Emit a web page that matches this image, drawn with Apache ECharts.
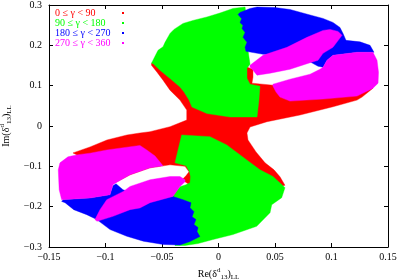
<!DOCTYPE html>
<html><head><meta charset="utf-8">
<script src="https://cdn.jsdelivr.net/npm/echarts@6/dist/echarts.min.js"></script>
<style>html,body{margin:0;padding:0;background:#fff}#c{width:397px;height:280px}</style>
</head><body><div id="c"></div>
<script>
const xTicks = [-0.15, -0.1, -0.05, 0, 0.05, 0.1, 0.15];
const yTicks = [-0.3, -0.2, -0.1, 0, 0.1, 0.2, 0.3];
const gammaRanges = ['0 ≤ γ < 90', '90 ≤ γ < 180', '180 ≤ γ < 270', '270 ≤ γ < 360'];
const colors = ['#ff0000', '#00ff00', '#0000ff', '#ff00ff'];

// region outlines, in (Re, Im) data units
const redRegion = [
[-0.0593,0.1556],[-0.0164,0.1630],[0.0235,0.1481],[0.0279,0.1432],[0.0305,0.1407],[0.0305,0.1210],[0.0296,0.1062],[0.0482,0.1012],[0.0721,0.0988],[0.1358,0.0988],[0.1367,0.0938],[0.1270,0.0716],[0.1226,0.0642],[0.1013,0.0477],[0.0721,0.0272],[0.0429,0.0106],[0.0279,-0.0025],[0.0252,-0.0173],[0.0261,-0.0346],[0.0332,-0.0642],[0.0412,-0.0914],[0.0491,-0.1086],[0.0544,-0.1259],[0.0588,-0.1469],[0.0279,-0.1704],[-0.0199,-0.1481],[-0.0270,-0.1432],[-0.0323,-0.1333],[-0.0288,-0.1235],[-0.0261,-0.1136],[-0.0296,-0.1000],[-0.0429,-0.0963],[-0.0606,-0.1037],[-0.0783,-0.1210],[-0.0916,-0.1407],[-0.1049,-0.1136],[-0.1252,-0.0716],[-0.1288,-0.0667],[-0.1137,-0.0519],[-0.0987,-0.0346],[-0.0810,-0.0222],[-0.0695,-0.0173],[-0.0606,-0.0141],[-0.0429,-0.0017],[-0.0281,0.0148],[-0.0281,0.0395],[-0.0341,0.0642],[-0.0429,0.0889],[-0.0491,0.1136],[-0.0544,0.1333],[-0.0593,0.1506]
];
const greenUpper = [
[-0.0593,0.1556],[-0.0562,0.1728],[-0.0535,0.1877],[-0.0491,0.1963],[-0.0473,0.2074],[-0.0429,0.2296],[-0.0394,0.2395],[-0.0314,0.2543],[-0.0226,0.2617],[-0.0102,0.2704],[0.0013,0.2802],[0.0128,0.2914],[0.0235,0.2951],[0.0261,0.2370],[0.0261,0.1877],[0.0279,0.1531],[0.0252,0.1432],[0.0252,0.1185],[0.0279,0.1037],[0.0367,0.0988],[0.0358,0.0642],[0.0341,0.0222],[0.0102,0.0222],[-0.0102,0.0309],[-0.0235,0.0469],[-0.0261,0.0642],[-0.0305,0.0840],[-0.0341,0.0970],[-0.0429,0.1178],[-0.0518,0.1383],[-0.0580,0.1548]
];
const greenLower = [
[-0.0326,-0.0222],[-0.0075,-0.0264],[0.0073,-0.0469],[0.0250,-0.0840],[0.0367,-0.1086],[0.0482,-0.1252],[0.0571,-0.1481],[0.0588,-0.1531],[0.0559,-0.1778],[0.0471,-0.1951],[0.0456,-0.2148],[0.0338,-0.2486],[0.0128,-0.2691],[-0.0049,-0.2815],[-0.0181,-0.2914],[-0.0296,-0.2963],[-0.0385,-0.2963],[-0.0412,-0.1753],[-0.0341,-0.1506],[-0.0288,-0.1457],[-0.0252,-0.1407],[-0.0248,-0.1259],[-0.0257,-0.1136],[-0.0288,-0.0988],[-0.0385,-0.0914],[-0.0358,-0.0593]
];
const blueUpper = [
[0.0173,0.2765],[0.0190,0.2815],[0.0279,0.2914],[0.0341,0.2951],[0.0500,0.2938],[0.0633,0.2889],[0.0810,0.2753],[0.0925,0.2667],[0.1013,0.2568],[0.1075,0.2444],[0.1102,0.2296],[0.1128,0.2123],[0.1252,0.2086],[0.1341,0.2000],[0.1376,0.1827],[0.1226,0.1827],[0.1013,0.1753],[0.0960,0.1630],[0.0925,0.1457],[0.0881,0.1481],[0.0721,0.1728],[0.0394,0.1778],[0.0243,0.1852],[0.0235,0.1951],[0.0252,0.2074],[0.0217,0.2198],[0.0235,0.2321],[0.0208,0.2420],[0.0217,0.2494],[0.0190,0.2568],[0.0205,0.2657]
];
const blueLower = [
[-0.1388,-0.1869],[-0.1358,-0.1901],[-0.1281,-0.2074],[-0.1166,-0.2198],[-0.1077,-0.2321],[-0.0960,-0.2568],[-0.0812,-0.2733],[-0.0665,-0.2857],[-0.0488,-0.2938],[-0.0341,-0.2951],[-0.0252,-0.2864],[-0.0164,-0.2741],[-0.0190,-0.2617],[-0.0181,-0.2519],[-0.0217,-0.2444],[-0.0199,-0.2321],[-0.0234,-0.2247],[-0.0217,-0.2123],[-0.0252,-0.2025],[-0.0243,-0.1901],[-0.0314,-0.1827],[-0.0403,-0.1746],[-0.0695,-0.1728],[-0.0845,-0.1580],[-0.0907,-0.1432],[-0.0934,-0.1481],[-0.0960,-0.1704],[-0.1137,-0.1785],[-0.1376,-0.1827]
];
const magentaUpperBand = [
[0.0279,0.1506],[0.0394,0.1753],[0.0606,0.1951],[0.0783,0.2198],[0.0925,0.2370],[0.0987,0.2395],[0.1058,0.2346],[0.1093,0.2247],[0.1013,0.1951],[0.0925,0.1802],[0.0881,0.1630],[0.0810,0.1568],[0.0633,0.1407],[0.0456,0.1309],[0.0341,0.1259],[0.0305,0.1383],[0.0279,0.1457]
];
const magentaUpperLobe = [
[0.0482,0.1037],[0.0633,0.1160],[0.0810,0.1284],[0.0898,0.1407],[0.0925,0.1457],[0.0960,0.1630],[0.1013,0.1753],[0.1226,0.1827],[0.1367,0.1827],[0.1403,0.1630],[0.1416,0.1333],[0.1412,0.1062],[0.1367,0.0938],[0.1226,0.0741],[0.0925,0.0667],[0.0633,0.0617],[0.0544,0.0716],[0.0509,0.0840],[0.0482,0.0988]
];
const magentaLowerBand = [
[-0.1093,-0.2321],[-0.1049,-0.2074],[-0.0989,-0.1827],[-0.0843,-0.1622],[-0.0783,-0.1499],[-0.0606,-0.1333],[-0.0429,-0.1252],[-0.0341,-0.1252],[-0.0296,-0.1333],[-0.0296,-0.1383],[-0.0341,-0.1499],[-0.0403,-0.1746],[-0.0606,-0.1901],[-0.0695,-0.2032],[-0.0783,-0.2074],[-0.0934,-0.2240],[-0.1075,-0.2363]
];
const magentaLowerLobe = [
[-0.1332,-0.0765],[-0.1403,-0.0914],[-0.1418,-0.1086],[-0.1410,-0.1580],[-0.1388,-0.1827],[-0.1137,-0.1785],[-0.0960,-0.1704],[-0.0934,-0.1457],[-0.0907,-0.1407],[-0.0783,-0.1210],[-0.0606,-0.1037],[-0.0491,-0.0988],[-0.0562,-0.0741],[-0.0635,-0.0593],[-0.0695,-0.0481],[-0.0987,-0.0593],[-0.1137,-0.0674],[-0.1257,-0.0716]
];

const groups = [[redRegion], [greenUpper, greenLower], [blueUpper, blueLower], [magentaUpperBand, magentaUpperLobe, magentaLowerBand, magentaLowerLobe]];
const FONT = 'Liberation Serif';
const fmt = v => String(Math.round(v * 100) / 100).replace('-', '\u2212');

const series = groups.map((polys, gi) => ({
  type: 'custom',
  name: gammaRanges[gi],
  coordinateSystem: 'cartesian2d',
  xAxisIndex: 0, yAxisIndex: 0,
  itemStyle: { color: colors[gi] },
  data: polys.map((p, i) => [i, 0]),
  silent: true,
  renderItem: (params, api) => ({
    type: 'polygon',
    shape: { points: polys[params.dataIndex].map(pt => api.coord(pt)) },
    style: { fill: colors[gi], stroke: colors[gi], lineWidth: 0.4 }
  })
}));

const axisCommon = {
  type: 'value',
  axisLine: { show: true, onZero: false, lineStyle: { color: '#000', width: 1 } },
  axisTick: { show: true, inside: true, length: 4, lineStyle: { color: '#000' } },
  splitLine: { show: false }
};

const chart = echarts.init(document.getElementById('c'), null, { renderer: 'canvas' });
chart.setOption({
  animation: false,
  backgroundColor: '#fff',
  textStyle: { fontFamily: FONT },
  grid: { left: 49, right: 9, top: 5, bottom: 33, containLabel: false, outerBoundsMode: 'none' },
  legend: {
    orient: 'vertical', left: 55, top: 8, padding: 0, itemGap: 0,
    align: 'right', icon: 'rect', itemWidth: 2, itemHeight: 2,
    data: gammaRanges.map((n, i) => ({ name: n, textStyle: { color: colors[i] } })),
    formatter: n => '{t|' + n + '}',
    textStyle: { fontFamily: FONT, fontSize: 10, lineHeight: 10,
      rich: { t: { width: 62, align: 'left', fontFamily: FONT, fontSize: 10, lineHeight: 10 } } }
  },
  xAxis: [
    Object.assign({}, axisCommon, {
      position: 'bottom', min: xTicks[0], max: xTicks[xTicks.length - 1], interval: 0.05,
      axisLabel: { margin: 5, color: '#000', fontFamily: FONT, fontSize: 10, formatter: fmt },
      name: 'Re(δ{sup|d}{sub|13}){sub|LL}', nameLocation: 'middle', nameGap: 18,
      nameTextStyle: { color: '#000', fontFamily: FONT, fontSize: 10, lineHeight: 14,
        rich: { sup: { fontSize: 7, verticalAlign: 'top', lineHeight: 8, fontFamily: FONT },
                sub: { fontSize: 7, verticalAlign: 'bottom', lineHeight: 8, fontFamily: FONT } } }
    }),
    Object.assign({}, axisCommon, {
      position: 'top', min: xTicks[0], max: xTicks[xTicks.length - 1], interval: 0.05,
      axisLabel: { show: false }
    })
  ],
  yAxis: [
    Object.assign({}, axisCommon, {
      position: 'left', min: yTicks[0], max: yTicks[yTicks.length - 1], interval: 0.1,
      axisLabel: { margin: 7, color: '#000', fontFamily: FONT, fontSize: 10, formatter: fmt },
      name: 'Im(δ{sup|d}{sub|13}){sub|LL}', nameLocation: 'middle', nameGap: 36,
      nameTextStyle: { color: '#000', fontFamily: FONT, fontSize: 10, lineHeight: 14,
        rich: { sup: { fontSize: 7, verticalAlign: 'top', lineHeight: 8, fontFamily: FONT },
                sub: { fontSize: 7, verticalAlign: 'bottom', lineHeight: 8, fontFamily: FONT } } }
    }),
    Object.assign({}, axisCommon, {
      position: 'right', min: yTicks[0], max: yTicks[yTicks.length - 1], interval: 0.1,
      axisLabel: { show: false }
    })
  ],
  series: series
});
</script>
</body></html>
